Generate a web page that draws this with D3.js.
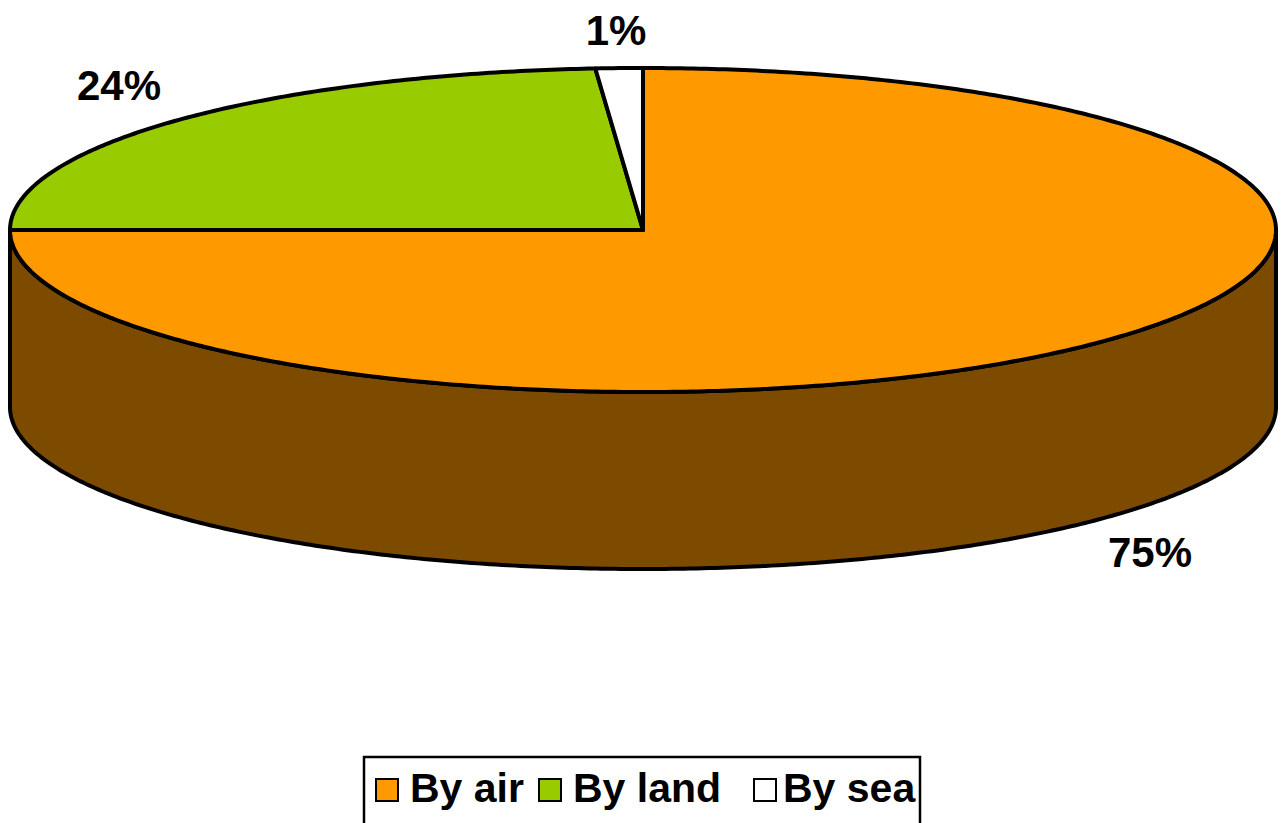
<!DOCTYPE html>
<html>
<head>
<meta charset="utf-8">
<script src="https://cdn.jsdelivr.net/npm/d3@7"></script>
<style>
  body { margin: 0; background: #fff; }
  text { font-family: "Liberation Sans", Arial, sans-serif; font-weight: bold; }
</style>
</head>
<body>
<svg></svg>
<script>
const width = 1283;
const height = 823;

const categories = ["By air", "By land", "By sea"];
const values = [75, 23.8, 1.2];
const labels = ["75%", "24%", "1%"];
const colors = ["#FF9900", "#99CC00", "#FFFFFF"];
const sideColors = ["#7D4B00", "#4D6600", "#808080"];

const cx = 643, cy = 230, rx = 633, ry = 162, depth = 177;

let svg = d3.select("svg")
    .attr("width", width)
    .attr("height", height)

let pie = d3.pie().sort(null).value(d => d.value);
let slices = pie(categories.map((c, i) => ({ name: c, value: values[i], i: i })));

function pt(a, dy) {
    return [cx + rx * Math.sin(a), cy - ry * Math.cos(a) + (dy || 0)];
}

function arcPts(a0, a1, dy) {
    let n = Math.max(2, Math.ceil(Math.abs(a1 - a0) / 0.01));
    return d3.range(n + 1).map(k => pt(a0 + (a1 - a0) * k / n, dy));
}

let line = d3.line();

// side walls: only the front half (pi/2 .. 3pi/2) is visible
slices.forEach(s => {
    let a0 = Math.max(s.startAngle, Math.PI / 2);
    let a1 = Math.min(s.endAngle, 3 * Math.PI / 2);
    if (a1 <= a0) return;
    let pts = arcPts(a0, a1, 0).concat(arcPts(a1, a0, depth));
    svg.append("path")
        .attr("d", line(pts) + "Z")
        .attr("fill", sideColors[s.data.i])
        .attr("stroke", "#000")
        .attr("stroke-width", 4)
        .attr("stroke-linejoin", "round")
});

// top faces
slices.forEach(s => {
    let pts = [[cx, cy]].concat(arcPts(s.startAngle, s.endAngle, 0));
    svg.append("path")
        .attr("d", line(pts) + "Z")
        .attr("fill", colors[s.data.i])
        .attr("stroke", "#000")
        .attr("stroke-width", 4)
        .attr("stroke-linejoin", "round")
});

// data labels
const labelPos = [[1150, 567], [119, 100], [616, 45]];
slices.forEach(s => {
    svg.append("text")
        .attr("x", labelPos[s.data.i][0])
        .attr("y", labelPos[s.data.i][1])
        .attr("text-anchor", "middle")
        .style("font-size", "42px")
        .text(labels[s.data.i])
});

// legend
let legend = svg.append("g");
legend.append("rect")
    .attr("x", 364)
    .attr("y", 757)
    .attr("width", 556)
    .attr("height", 80)
    .attr("fill", "#fff")
    .attr("stroke", "#000")
    .attr("stroke-width", 2.5)

const swatchX = [375, 538, 753];
const textX = [410, 573, 783];
categories.forEach((c, i) => {
    legend.append("rect")
        .attr("x", swatchX[i] + 1)
        .attr("y", 779)
        .attr("width", 22)
        .attr("height", 22)
        .attr("fill", colors[i])
        .attr("stroke", "#000")
        .attr("stroke-width", 2)
    legend.append("text")
        .attr("x", textX[i])
        .attr("y", 802)
        .style("font-size", "41px")
        .text(c)
});
</script>
</body>
</html>
